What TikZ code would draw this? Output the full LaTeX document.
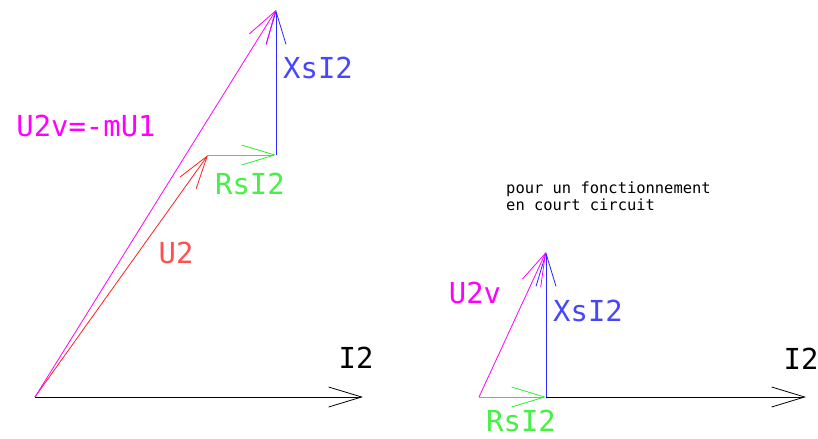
\documentclass[tikz,border=0pt]{standalone}
\usepackage{fontspec}
\setmainfont{DejaVu Sans Mono}
\usetikzlibrary{arrows.meta}
\definecolor{cmag}{RGB}{255,0,255}
\definecolor{cred}{RGB}{255,30,30}
\definecolor{cgreen}{RGB}{40,240,40}
\definecolor{cblue}{RGB}{40,40,255}
\definecolor{lred}{RGB}{255,80,80}
\definecolor{lgreen}{RGB}{70,240,70}
\definecolor{lblue}{RGB}{70,70,255}

\begin{document}
\begin{tikzpicture}[x=1bp, y=-1bp, >={Straight Barb[length=33bp,width=20bp]},
    vec/.style={->, line width=0.8bp},
    lbl/.style={inner sep=0pt, font=\fontsize{29}{31}\selectfont}]
        \useasboundingbox (0,0) rectangle (818,439);
        % Points, left diagram
        \coordinate (O) at (35,397);
        \coordinate (A) at (208,155);
        \coordinate (B) at (276,155);
        \coordinate (C) at (276,10);
        \coordinate (I) at (363,397);
        % Points, right diagram
        \coordinate (Oc) at (479,397);
        \coordinate (Bc) at (546,397);
        \coordinate (Cc) at (546,252);
        \coordinate (Ic) at (806,397);
        % Vectors, left
        \draw[vec] (O) -- (I);
        \draw[vec, cred] (O) -- (A);
        \draw[vec, cgreen] (A) -- (B);
        \draw[vec, cblue] (B) -- (C);
        \draw[vec, cmag] (O) -- (C);
        % Vectors, right
        \draw[vec] (Bc) -- (Ic);
        \draw[vec, cgreen] (Oc) -- (Bc);
        \draw[vec, cblue] (Bc) -- (Cc);
        \draw[vec, cmag] (Oc) -- (Cc);
        % Labels, left
        \node[lbl] (lI) at (356,358) {I2};
        \node[lbl, text=lred] (lU) at (176,253) {U2};
        \node[lbl, text=lgreen] (lR) at (250,184) {RsI2};
        \node[lbl, text=lblue] (lX) at (318,68) {XsI2};
        \node[lbl, text=cmag] (lV) at (86,126) {U2v=-mU1};
        % Labels, right
        \node[lbl] (lIc) at (801,359) {I2};
        \node[lbl, text=lgreen] (lRc) at (521,421) {RsI2};
        \node[lbl, text=lblue] (lXc) at (588,311) {XsI2};
        \node[lbl, text=cmag] (lVc) at (475,293) {U2v};
        % Note
        \node[anchor=north west, inner sep=0pt, align=left,
              font=\fontsize{15.5}{17}\selectfont] (note) at (506,182)
              {pour un fonctionnement\\en court circuit};
    \end{tikzpicture}
\end{document}
